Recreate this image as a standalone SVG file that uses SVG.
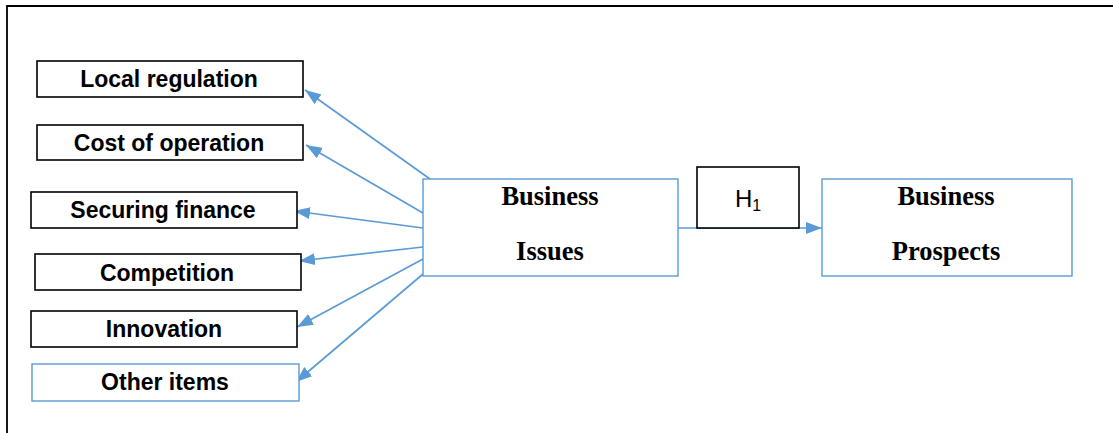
<svg xmlns="http://www.w3.org/2000/svg" width="1113" height="433" viewBox="0 0 1113 433">
<style>
.bk{fill:#fff;stroke:#000;stroke-width:1.6}
.bl{fill:#fff;stroke:#5B9BD5;stroke-width:1.4}
.t{font-family:"Liberation Sans",Arial,sans-serif;font-weight:bold;font-size:23px;fill:#000;text-anchor:middle}
.s{font-family:"Liberation Serif","Times New Roman",serif;font-weight:bold;font-size:26.5px;fill:#000;text-anchor:middle}
.h{font-family:"Liberation Sans",Arial,sans-serif;font-size:24px;fill:#000;text-anchor:middle}
.c{stroke:#5B9BD5;stroke-width:1.7;fill:none}
</style>
<defs>
<marker id="ah2" viewBox="0 0 10 10" refX="10" refY="5" markerWidth="16" markerHeight="12" markerUnits="userSpaceOnUse" orient="auto" preserveAspectRatio="none">
<path d="M0,0 L10,5 L0,10 z" fill="#5B9BD5"/>
</marker>
</defs>
<rect width="1113" height="433" fill="#fff"/>
<path d="M7,433 V6 H1113" fill="none" stroke="#000" stroke-width="1.8"/>
<g id="connectors">
<line class="c" x1="430" y1="179" x2="305" y2="90" marker-end="url(#ah2)"/>
<line class="c" x1="423" y1="213" x2="306" y2="145" marker-end="url(#ah2)"/>
<line class="c" x1="423" y1="228" x2="294" y2="211" marker-end="url(#ah2)"/>
<line class="c" x1="423" y1="247" x2="299" y2="261" marker-end="url(#ah2)"/>
<line class="c" x1="423" y1="259" x2="297" y2="327" marker-end="url(#ah2)"/>
<line class="c" x1="423" y1="274" x2="296" y2="382" marker-end="url(#ah2)"/>
<line class="c" x1="678" y1="228" x2="822" y2="228" marker-end="url(#ah2)"/>
</g>
<g id="local-regulation"><rect class="bk" x="37" y="61" width="266" height="36"/><text class="t" x="169" y="87">Local regulation</text></g>
<g id="cost-of-operation"><rect class="bk" x="37" y="125" width="266" height="35"/><text class="t" x="169" y="151">Cost of operation</text></g>
<g id="securing-finance"><rect class="bk" x="31" y="192" width="266" height="36"/><text class="t" x="163" y="218">Securing finance</text></g>
<g id="competition"><rect class="bk" x="35" y="254" width="266" height="36"/><text class="t" x="167" y="281">Competition</text></g>
<g id="innovation"><rect class="bk" x="31" y="311" width="266" height="36"/><text class="t" x="164" y="337">Innovation</text></g>
<g id="other-items"><rect class="bl" x="32" y="364" width="267" height="37"/><text class="t" x="165" y="390">Other items</text></g>
<g id="business-issues"><rect class="bl" x="423" y="179" width="255" height="97"/><text class="s" x="550" y="205">Business</text><text class="s" x="550" y="260">Issues</text></g>
<g id="h1"><rect class="bk" x="697" y="167" width="102" height="61"/><text class="h" x="748" y="207">H<tspan font-size="16" dy="4">1</tspan></text></g>
<g id="business-prospects"><rect class="bl" x="822" y="179" width="250" height="97"/><text class="s" x="946" y="205">Business</text><text class="s" x="946" y="260">Prospects</text></g>
</svg>
